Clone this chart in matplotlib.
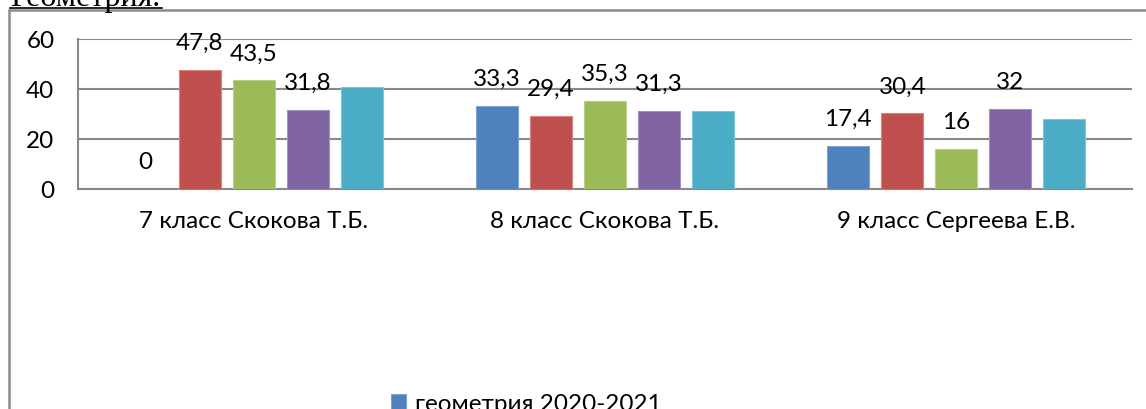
import matplotlib
matplotlib.use("Agg")
import matplotlib.pyplot as plt
import numpy as np
from matplotlib.patches import Rectangle
from matplotlib.lines import Line2D

categories = ["7 класс Скокова Т.Б.", "8 класс Скокова Т.Б.", "9 класс Сергеева Е.В."]
series_names = ["геометрия 2020-2021", "ряд 2", "ряд 3", "ряд 4", "ряд 5"]
s1 = [0, 33.3, 17.4]
s2 = [47.8, 29.4, 30.4]
s3 = [43.5, 35.3, 16]
s4 = [31.8, 31.3, 32]
s5 = [40.7, 31.2, 28]
labels1 = ["0", "33,3", "17,4"]
labels2 = ["47,8", "29,4", "30,4"]
labels3 = ["43,5", "35,3", "16"]
labels4 = ["31,8", "31,3", "32"]
yticks = [0, 20, 40, 60]

series = [s1, s2, s3, s4, s5]
labels = [labels1, labels2, labels3, labels4, None]
colors = ["#4F81BD", "#C0504D", "#9BBB59", "#8064A2", "#4BACC6"]
edges = ["#7FA3D3", "#D68381", "#B8D08A", "#A48FBE", "#80C6D9"]

plt.rcParams['font.family'] = ['Lato', 'DejaVu Sans']
FS = 17.5
W, H = 1146, 410
fig = plt.figure(figsize=(W / 100, H / 100), dpi=100)
ax = fig.add_axes([78 / W, (H - 190) / H, (1132 - 78) / W, 150 / H])

x = np.arange(len(categories))
pitch = 0.1537
width = 0.12
grid_c = "#888888"
for i, (vals, col) in enumerate(zip(series, colors)):
    pos = x + (i - 2) * pitch
    bars = ax.bar(pos, vals, width, color=col, edgecolor=edges[i], linewidth=0.8,
                  label=series_names[i], zorder=3)
    if labels[i] is not None:
        for p, v, t in zip(pos, vals, labels[i]):
            ax.annotate(t, (p, v), xytext=(0, 19.5), textcoords="offset points",
                        ha="center", va="center", fontsize=FS, color="black", zorder=5)

ax.set_xlim(-0.5, 2.5)
ax.set_ylim(0, 60)
ax.set_yticks(yticks)
ax.set_yticklabels([str(t) for t in yticks])
ax.set_xticks(x)
ax.set_xticklabels(categories)
ax.tick_params(axis="both", length=0, labelsize=FS, colors="black")
ax.tick_params(axis="y", pad=17)
ax.tick_params(axis="x", pad=15)
ax.yaxis.grid(True, color=grid_c, linewidth=1.5, zorder=0)
ax.set_axisbelow(True)
for s in ["top", "right"]:
    ax.spines[s].set_visible(False)
ax.spines["left"].set_color(grid_c)
ax.spines["left"].set_linewidth(1.5)
ax.spines["bottom"].set_color(grid_c)
ax.spines["bottom"].set_linewidth(1.5)

# outer frame
fig.add_artist(Rectangle((9 / W, -0.05), 1.1, (H - 11) / H + 0.05, transform=fig.transFigure,
                         fill=False, edgecolor="#8c8c8c", linewidth=1.8, clip_on=False))

# title (cut off at top)
fig.text(10 / W, (H - 6) / H, "Геометрия.", fontsize=23, family=["Liberation Serif"],
         ha="left", va="baseline", color="black")
fig.add_artist(Line2D([10 / W, 162 / W], [(H - 9) / H, (H - 9) / H], transform=fig.transFigure,
                      color="black", linewidth=1.2))

# legend (only first entry visible)
h, l = ax.get_legend_handles_labels()
fig.legend([h[0]], [l[0]], loc="upper left", bbox_to_anchor=(391 / W, (H - 394) / H),
           frameon=False, fontsize=FS, handlelength=0.62, handleheight=0.62,
           handletextpad=0.35, borderpad=0, borderaxespad=0)

fig.savefig("out.png", dpi=100)
